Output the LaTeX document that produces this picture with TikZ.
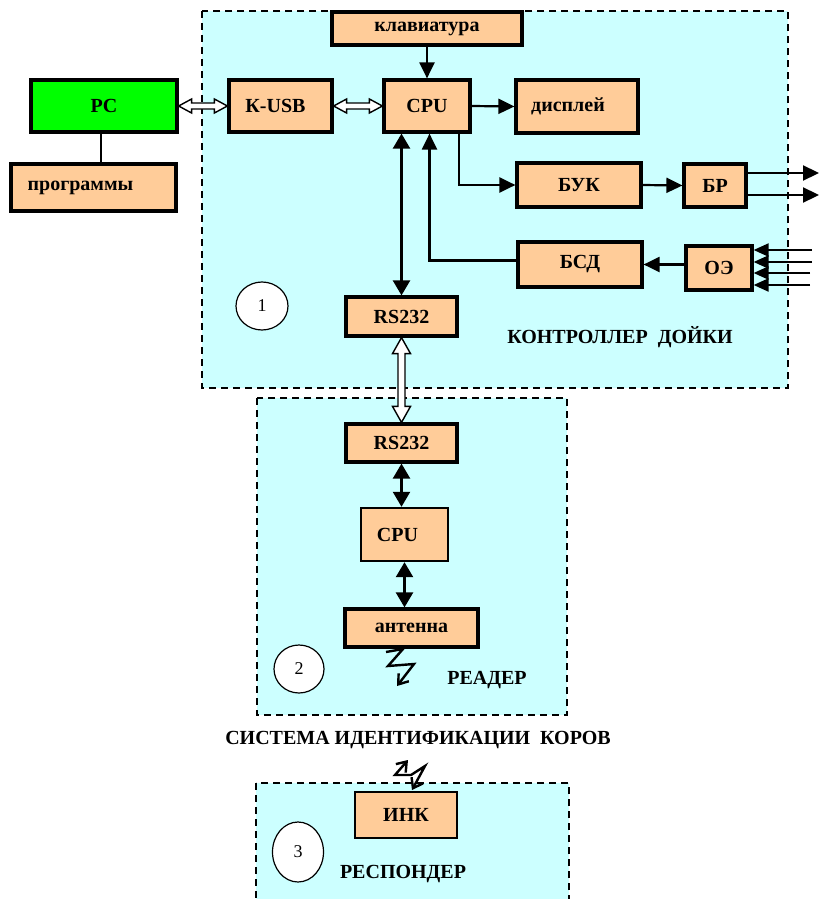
\documentclass[tikz,border=0pt]{standalone}
\usepackage{fontspec}
\setmainfont{Liberation Serif}
\usetikzlibrary{arrows.meta,calc,shapes.geometric}
\definecolor{bgc}{HTML}{CCFFFF}
\definecolor{peach}{HTML}{FFCC99}
\definecolor{pcgreen}{HTML}{00FF00}
\newcommand\bx[7]{\node[#1, minimum width={#5-#3-2}, minimum height={#6-#4-2}] (#2) at ({(#3+#5)/2},{(#4+#6)/2}) {#7};}
\newcommand\hollowh[2]{\draw[hol] (#1) -- ($(#1)+(13,-7)$) -- ($(#1)+(13,-3)$) -- ($(#2)+(-13,-3)$) -- ($(#2)+(-13,-7)$) -- (#2) -- ($(#2)+(-13,7)$) -- ($(#2)+(-13,3)$) -- ($(#1)+(13,3)$) -- ($(#1)+(13,7)$) -- cycle;}
\newcommand\hollowv[2]{\draw[hol] (#1) -- ($(#1)+(-9,16)$) -- ($(#1)+(-3.5,16)$) -- ($(#2)+(-3.5,-16)$) -- ($(#2)+(-9,-16)$) -- (#2) -- ($(#2)+(9,-16)$) -- ($(#2)+(3.5,-16)$) -- ($(#1)+(3.5,16)$) -- ($(#1)+(9,16)$) -- cycle;}
\begin{document}
\begin{tikzpicture}[x=1pt,y=-1pt,
  zone/.style={fill=bgc, draw=black, line width=1.5pt, dash pattern=on 7pt off 5pt},
  blk/.style={draw=black, fill=peach, line width=3.2pt, inner sep=0pt, font=\bfseries\fontsize{20}{22}\selectfont},
  midblk/.style={blk, line width=2.4pt},
  thinblk/.style={blk, line width=1.2pt},
  num/.style={ellipse, draw=black, fill=white, line width=1.2pt, inner sep=0pt, font=\fontsize{18}{20}\selectfont},
  captxt/.style={font=\bfseries\fontsize{20}{22}\selectfont, inner sep=0pt},
  arr/.style={line width=2.2pt, -{Triangle[length=16pt,width=15pt]}},
  inarr/.style={line width=2pt, -{Triangle[length=15pt,width=13pt]}},
  darr/.style={line width=2.4pt, {Triangle[length=15pt,width=17pt]}-{Triangle[length=15pt,width=17pt]}},
  hol/.style={draw=black, fill=white, line width=1.4pt, line join=miter},
  bolt/.style={line width=2.4pt, line join=miter},
  thinln/.style={line width=1.6pt}
]
\clip (0,0) rectangle (819,899);
% zones
\draw[zone] (202,11) rectangle (788,388);
\draw[zone] (257,398) rectangle (567,715);
\draw[zone] (256,783) rectangle (569,920);
% controller blocks
\bx{blk}{klav}{331}{11}{523}{46}{клавиатура}
\bx{blk, fill=pcgreen}{pc}{30}{79}{178}{133}{PC}
\bx{blk}{progr}{10}{163}{177}{212}{\hspace*{-26pt}программы}
\bx{blk}{kusb}{228}{79}{333}{133}{\hspace*{-10pt}К-USB}
\bx{blk}{cpua}{383}{79}{471}{133}{CPU}
\bx{blk}{disp}{515}{79}{639}{134}{\hspace*{-18pt}дисплей}
\bx{blk}{buk}{516}{162}{642}{208}{БУК}
\bx{blk}{br}{683}{163}{747}{208}{БР}
\bx{blk}{bsd}{517}{241}{643}{288}{БСД}
\bx{blk}{oe}{685}{245}{753}{291}{ОЭ}
\bx{blk}{rsa}{345}{296}{458}{337}{RS232}
% reader blocks
\bx{blk}{rsb}{345}{423}{458}{463}{RS232}
\bx{midblk}{cpub}{360}{507}{449}{562}{\hspace*{-14pt}CPU}
\bx{blk}{ant}{344}{608}{479}{648}{антенна}
% responder
\bx{thinblk}{ink}{354}{791}{458}{839}{ИНК}
% number circles
\node[num, minimum width=52pt, minimum height=48pt] (n1) at (262,306) {1};
\node[num, minimum width=50pt, minimum height=48pt] (n2) at (299,669) {2};
\node[num, minimum width=51pt, minimum height=60pt] (n3) at (298,852) {3};
% captions
\node[captxt] (tctrl) at (620,337) {КОНТРОЛЛЕР\ \ ДОЙКИ};
\node[captxt] (tread) at (487,680) {РЕАДЕР};
\node[captxt] (tsys) at (418,740) {СИСТЕМА ИДЕНТИФИКАЦИИ\ \ КОРОВ};
\node[captxt] (tresp) at (403,874) {РЕСПОНДЕР};
% connectors
\coordinate (pcs) at ($(pc.south)+(-3,0)$);
\draw[thinln] (pcs) -- (pcs |- progr.north);
\hollowh{pc.east}{kusb.west}
\hollowh{kusb.east}{cpua.west}
\draw[arr] (klav.south) -- (cpua.north);
\draw[arr] (cpua.east) -- (disp.west);
\draw[arr] ($(cpua.south east)+(-13,0)$) |- (buk.west);
\draw[arr] (buk.east) -- (br.west);
\coordinate (outa) at (819,173);
\coordinate (outb) at (819,195);
\draw[arr] (br.east |- outa) -- (outa);
\draw[arr] (br.east |- outb) -- (outb);
\coordinate (ina) at (812,250);
\coordinate (inb) at (812,262);
\coordinate (inc) at (810,273);
\coordinate (ind) at (810,285);
\foreach \c in {ina,inb,inc,ind}{\draw[inarr] (\c) -- (oe.east |- \c);}
\draw[arr] (oe.west |- bsd.east) -- (bsd.east);
\draw[arr] ($(bsd.west)+(0,-4)$) -| ($(cpua.south)+(2.5,0)$);
\draw[darr] (rsa.north |- cpua.south) -- (rsa.north);
\hollowv{rsa.south}{rsb.north}
\draw[darr] (rsb.south) -- (rsb.south |- cpub.north);
\draw[darr] (cpub.south) -- (cpub.south |- ant.north);
% radio links
\draw[bolt, -{Straight Barb[length=9pt,width=13pt]}] (386,652) -- (403,649) -- (388,666) -- (414,664) -- (397,686);
\draw[bolt, {Straight Barb[length=9pt,width=13pt]}-{Straight Barb[length=9pt,width=13pt]}] (408,760) -- (395,775) -- (411,775) -- (425,766) -- (412,790);
\end{tikzpicture}
\end{document}
